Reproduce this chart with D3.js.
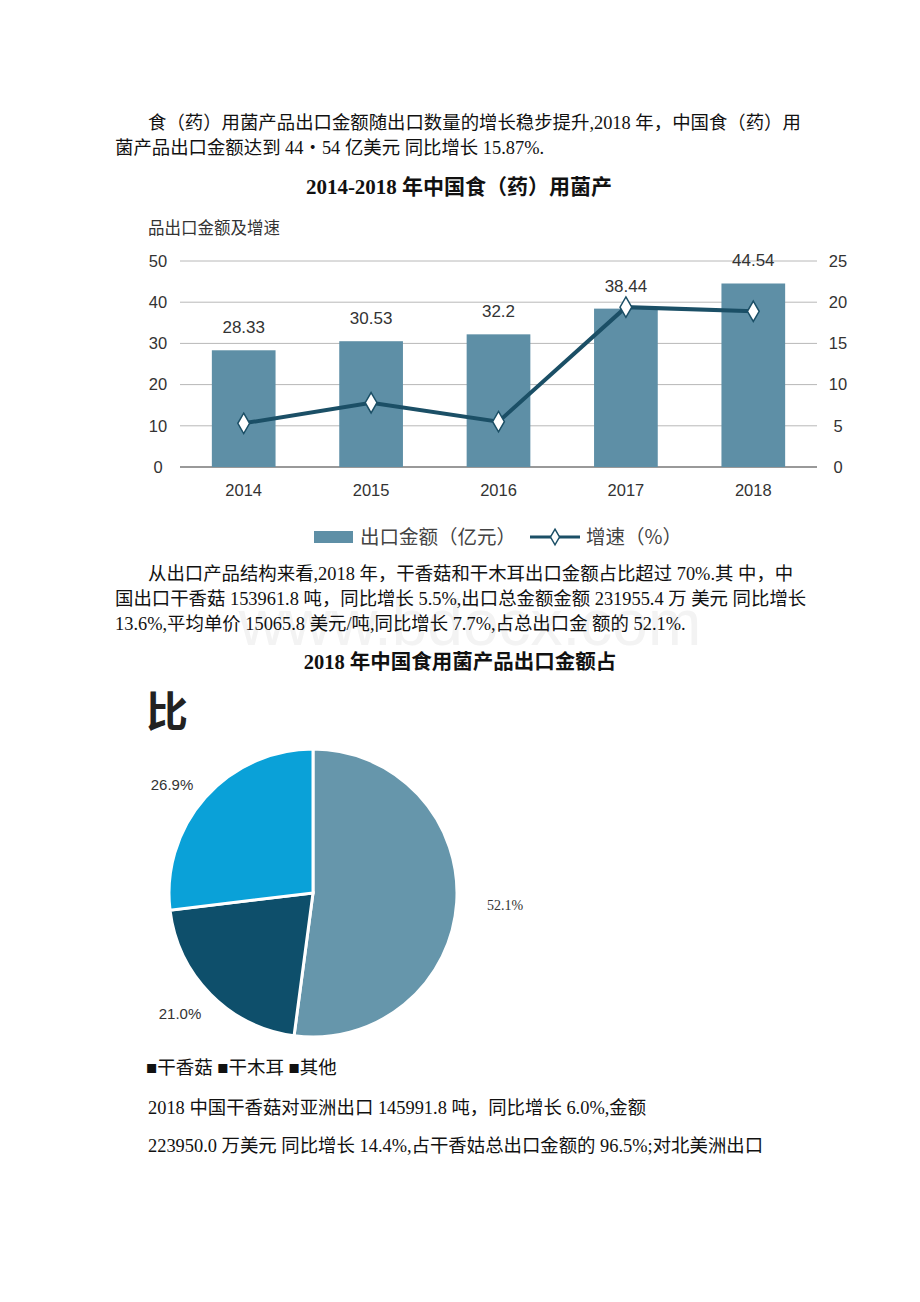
<!DOCTYPE html>
<html><head><meta charset="utf-8">
<script src="https://cdn.jsdelivr.net/npm/d3@7"></script>
<style>
html,body{margin:0;padding:0;background:#fff;}
svg{display:block;}
</style></head>
<body>
<svg id="c" width="920" height="1302"></svg>
<script>
// ---------- data ----------
const years = ["2014", "2015", "2016", "2017", "2018"];
const exportValues = [28.33, 30.53, 32.2, 38.44, 44.54];
const growthRates = [5.3, 7.8, 5.5, 19.4, 18.9];
const leftTicks = [0, 10, 20, 30, 40, 50];
const rightTicks = [0, 5, 10, 15, 20, 25];
const legendBar = "出口金额（亿元）";
const legendLine = "增速（%）";

const pieLabels = ["干香菇", "干木耳", "其他"];
const pieValues = [52.1, 21.0, 26.9];
const pieTexts = ["52.1%", "21.0%", "26.9%"];

const para1 = ["食（药）用菌产品出口金额随出口数量的增长稳步提升,2018 年，中国食（药）用",
               "菌产品出口金额达到 44・54 亿美元 同比增长 15.87%."];
const title1 = "2014-2018 年中国食（药）用菌产";
const subtitle1 = "品出口金额及增速";
const para2 = ["从出口产品结构来看,2018 年，干香菇和干木耳出口金额占比超过 70%.其 中，中",
               "国出口干香菇 153961.8 吨，同比增长 5.5%,出口总金额金额 231955.4 万 美元 同比增长",
               "13.6%,平均单价 15065.8 美元/吨,同比增长 7.7%,占总出口金 额的 52.1%."];
const title2 = "2018 年中国食用菌产品出口金额占";
const title2b = "比";
const para3 = ["2018 中国干香菇对亚洲出口 145991.8 吨，同比增长 6.0%,金额",
               "223950.0 万美元 同比增长 14.4%,占干香姑总出口金额的 96.5%;对北美洲出口"];

// ---------- setup ----------
const svg = d3.select("#c");
const serif = "'Liberation Serif','Times New Roman','Noto Sans CJK SC',serif";
const sans = "'Liberation Sans',Arial,'Noto Sans CJK SC',sans-serif";
const cjk = "'Noto Sans CJK SC',sans-serif";

function para(lines, x0, xIndent, y0, dy) {
  lines.forEach((t, i) => {
    svg.append("text").attr("x", i === 0 ? xIndent : x0).attr("y", y0 + i * dy)
      .attr("font-family", serif).attr("font-size", 18.4).attr("fill", "#111").text(t);
  });
}

// faint watermark
svg.append("text").attr("x", 470).attr("y", 645).attr("text-anchor", "middle")
  .attr("font-family", sans).attr("font-size", 64).attr("fill", "#f3f3f3").text("www.bdocx.com");

para(para1, 115, 148, 129, 25);
svg.append("text").attr("x", 459).attr("y", 194).attr("text-anchor", "middle")
  .attr("font-family", serif).attr("font-weight", "bold").attr("font-size", 21).attr("fill", "#111").text(title1);
svg.append("text").attr("x", 148).attr("y", 234)
  .attr("font-family", cjk).attr("font-size", 16.5).attr("fill", "#333").text(subtitle1);

// ---------- combo chart ----------
const x = d3.scaleBand().domain(years).range([180, 817]).paddingInner(0.5).paddingOuter(0.25);
const yL = d3.scaleLinear().domain([0, 50]).range([467, 261]);
const yR = d3.scaleLinear().domain([0, 25]).range([467, 261]);

const g = svg.append("g");
g.selectAll("line.grid").data(leftTicks).join("line")
  .attr("x1", 180).attr("x2", 817)
  .attr("y1", d => yL(d)).attr("y2", d => yL(d))
  .attr("stroke", d => d === 0 ? "#777" : "#b8b8b8").attr("stroke-width", d => d === 0 ? 1.5 : 1);

const axL = g.append("g").attr("transform", "translate(168,0)")
  .call(d3.axisLeft(yL).tickValues(leftTicks).tickSize(0).tickPadding(0));
axL.select(".domain").remove();
axL.selectAll("text").attr("font-family", sans).attr("font-size", 16.5).attr("fill", "#333")
  .attr("text-anchor", "middle").attr("dx", -10);
const axR = g.append("g").attr("transform", "translate(828,0)")
  .call(d3.axisRight(yR).tickValues(rightTicks).tickSize(0).tickPadding(0));
axR.select(".domain").remove();
axR.selectAll("text").attr("font-family", sans).attr("font-size", 16.5).attr("fill", "#333")
  .attr("text-anchor", "middle").attr("dx", 10);
const axB = g.append("g").attr("transform", "translate(0,467)")
  .call(d3.axisBottom(x).tickSize(0).tickPadding(17));
axB.select(".domain").remove();
axB.selectAll("text").attr("font-family", sans).attr("font-size", 16.5).attr("fill", "#333");

g.selectAll("rect.bar").data(years).join("rect")
  .attr("x", d => x(d)).attr("width", x.bandwidth())
  .attr("y", (d, i) => yL(exportValues[i])).attr("height", (d, i) => yL(0) - yL(exportValues[i]))
  .attr("fill", "#5e8fa6");
g.selectAll("text.blab").data(years).join("text")
  .attr("x", d => x(d) + x.bandwidth() / 2)
  .attr("y", (d, i) => yL(exportValues[i]) - 17)
  .attr("text-anchor", "middle").attr("font-family", sans).attr("font-size", 17).attr("fill", "#333")
  .text((d, i) => exportValues[i]);

const line = d3.line().x((d, i) => x(years[i]) + x.bandwidth() / 2).y(d => yR(d));
g.append("path").datum(growthRates).attr("d", line)
  .attr("fill", "none").attr("stroke", "#1b4f66").attr("stroke-width", 4);
const diamond = d3.symbol().type(d3.symbolDiamond).size(120);
g.selectAll("path.mk").data(growthRates).join("path")
  .attr("d", diamond)
  .attr("transform", (d, i) => `translate(${x(years[i]) + x.bandwidth() / 2},${yR(d)})`)
  .attr("fill", "#fff").attr("stroke", "#1b4f66").attr("stroke-width", 1.5);

// legend
const lg = svg.append("g").attr("transform", "translate(0,537)");
lg.append("rect").attr("x", 314).attr("y", -6).attr("width", 39).attr("height", 12).attr("fill", "#5e8fa6");
lg.append("text").attr("x", 360).attr("y", 7).attr("font-family", cjk).attr("font-size", 19.5).attr("fill", "#444").text(legendBar);
lg.append("line").attr("x1", 530).attr("x2", 580).attr("y1", 0).attr("y2", 0).attr("stroke", "#1b4f66").attr("stroke-width", 3);
lg.append("path").attr("d", d3.symbol().type(d3.symbolDiamond).size(70)).attr("transform", "translate(555,0)")
  .attr("fill", "#fff").attr("stroke", "#1b4f66").attr("stroke-width", 1.5);
lg.append("text").attr("x", 586).attr("y", 7).attr("font-family", cjk).attr("font-size", 19.5).attr("fill", "#444").text(legendLine);

// ---------- paragraph 2 ----------
para(para2, 115, 148, 580, 25);
svg.append("text").attr("x", 460).attr("y", 669).attr("text-anchor", "middle")
  .attr("font-family", serif).attr("font-weight", "bold").attr("font-size", 20.5).attr("fill", "#111").text(title2);
svg.append("text").attr("x", 146).attr("y", 727)
  .attr("font-family", cjk).attr("font-weight", "bold").attr("font-size", 42).attr("fill", "#222").text(title2b);

// ---------- pie ----------
const pieColors = ["#6696ab", "#0e4f6b", "#0aa1d8"];
const cx = 313, cy = 893, R = 144;
const arcs = d3.pie().sort(null).value(d => d)(pieValues);
const arc = d3.arc().innerRadius(0).outerRadius(R);
const pg = svg.append("g").attr("transform", `translate(${cx},${cy})`);
pg.selectAll("path").data(arcs).join("path")
  .attr("d", arc).attr("fill", (d, i) => pieColors[i])
  .attr("stroke", "#fff").attr("stroke-width", 3);

const labelPos = [[505, 910, serif, 14], [180, 1019, sans, 15], [172, 790, sans, 15]];
pieTexts.forEach((t, i) => {
  const p = labelPos[i];
  svg.append("text").attr("x", p[0]).attr("y", p[1]).attr("text-anchor", "middle")
    .attr("font-family", p[2]).attr("font-size", p[3]).attr("fill", "#333").text(t);
});

const legText = pieLabels.map(l => "■" + l).join(" ");
svg.append("text").attr("x", 146).attr("y", 1074)
  .attr("font-family", serif).attr("font-size", 18.5).attr("fill", "#111").text(legText);

// ---------- paragraph 3 ----------
para3.forEach((t, i) => {
  svg.append("text").attr("x", 148).attr("y", 1114 + i * 38)
    .attr("font-family", serif).attr("font-size", 18.4).attr("fill", "#111").text(t);
});
</script>
</body></html>
